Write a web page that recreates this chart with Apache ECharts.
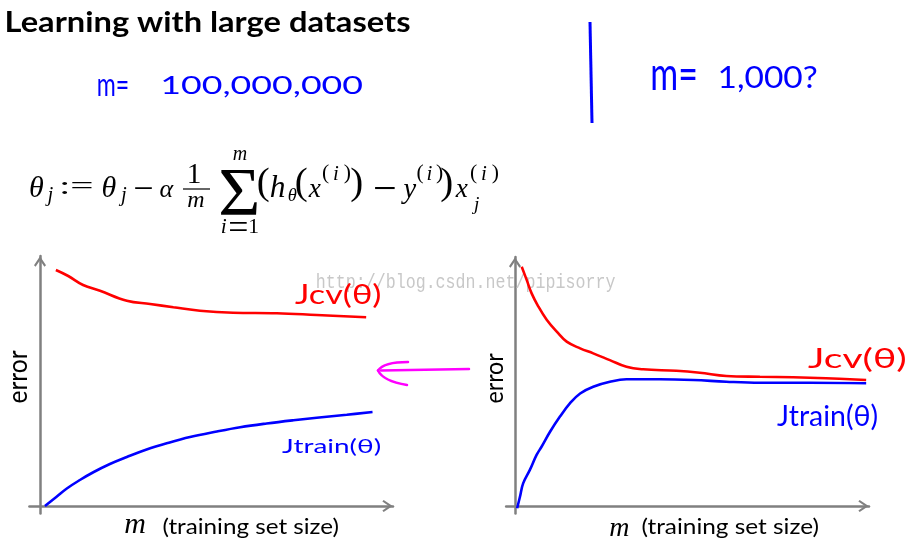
<!DOCTYPE html>
<html><head><meta charset="utf-8">
<script src="https://cdn.jsdelivr.net/npm/echarts@6/dist/echarts.min.js"></script>
<style>html,body{margin:0;padding:0;background:#fff}#c{width:912px;height:544px}</style>
</head><body><div id="c"></div>
<script>
// ---- data (abstract units: x 0..100 along m axis, y 0..100 along error axis) ----
const leftCvX    = [4.5, 8.0, 12.2, 17.0, 24.6, 31.2, 37.8, 45.3, 54.7, 67.1, 78.4, 92.4];
const leftCvY    = [94.4, 92.0, 88.4, 86.1, 82.1, 80.8, 79.5, 78.1, 77.3, 77.1, 76.4, 75.5];
const leftTrainX = [1.4, 4.7, 7.6, 11.3, 15.1, 19.8, 24.6, 30.2, 35.9, 42.5, 50.1, 56.7, 64.2, 71.8, 78.4, 86.9, 94.2];
const leftTrainY = [0, 3.7, 7.0, 10.4, 13.5, 16.8, 19.6, 22.6, 25.1, 27.6, 29.8, 31.5, 33.0, 34.3, 35.3, 36.5, 37.6];
const rightCvX    = [1.9, 3.3, 4.7, 6.6, 9.0, 11.8, 14.6, 18.4, 22.1, 26.8, 31.5, 36.2, 45.6, 52.2, 59.7, 69.2, 78.6, 87.9, 99.2];
const rightCvY    = [96.1, 90.8, 85.4, 80.1, 74.7, 70.0, 66.0, 63.3, 61.3, 58.6, 55.9, 54.9, 54.3, 53.5, 52.2, 51.9, 51.7, 51.3, 50.6];
const rightTrainX = [0.6, 1.4, 2.3, 4.2, 6.1, 7.5, 9.9, 12.7, 15.5, 18.4, 22.1, 26.8, 31.5, 40.9, 50.4, 59.7, 69.2, 83.3, 99.2];
const rightTrainY = [-0.9, 3.7, 9.1, 14.5, 20.5, 23.8, 29.8, 35.9, 41.2, 45.2, 47.9, 49.9, 50.9, 50.9, 50.6, 49.9, 49.5, 49.5, 49.3];
const titleText = 'Learning with large datasets';
const xAxisLabel = '(training set size)';
const yAxisLabel = 'error';
const cvLabel = 'Jcv(θ)';
const trainLabel = 'Jtrain(θ)';
const watermark = 'http://blog.csdn.net/pipisorry';

const zip = (a, b) => a.map((v, i) => [v, b[i]]);

// ---- text fitting helper ----
const ctx = document.createElement('canvas').getContext('2d');
function fit(str, box, o) {
  o = o || {};
  const fam = o.family || 'Lato', size = 40, wt = o.weight || 'normal', st = o.style || 'normal';
  ctx.font = st + ' ' + wt + ' ' + size + 'px ' + fam;
  ctx.textBaseline = 'middle'; ctx.textAlign = 'left';
  const m = ctx.measureText(str);
  const l = -m.actualBoundingBoxLeft, r = m.actualBoundingBoxRight;
  const t = -m.actualBoundingBoxAscent, b = m.actualBoundingBoxDescent;
  const [x1, y1, x2, y2] = box;
  const rot = o.rotation || 0;
  const tw = rot ? (y2 - y1) : (x2 - x1), th = rot ? (x2 - x1) : (y2 - y1);
  let sx = tw / (r - l), sy = th / (b - t);
  if (o.mode === 'w') sy = sx;
  if (o.mode === 'h') sx = sy;
  return {
    type: 'text', x: (x1 + x2) / 2, y: (y1 + y2) / 2, scaleX: sx, scaleY: sy, rotation: rot, z: o.z || 10,
    style: { text: str, x: -(l + r) / 2, y: -(t + b) / 2, fill: o.color || '#000', fontSize: size,
      fontFamily: fam, fontWeight: wt, fontStyle: st, align: 'left', verticalAlign: 'middle' }
  };
}
const SER = 'Liberation Serif';
const it = (s, box, extra) => fit(s, box, Object.assign({ family: SER, style: 'italic', mode: 'h' }, extra));
const up = (s, box, extra) => fit(s, box, Object.assign({ family: SER, mode: 'h' }, extra));
function sup(x1, x2, y1, y2) {
  const w = x2 - x1, h = y2 - y1;
  return [up('(', [x1, y1, x1 + 0.2 * w, y2]),
          it('i', [x1 + 0.36 * w, y1 + 0.12 * h, x1 + 0.62 * w, y2 - 0.2 * h]),
          up(')', [x2 - 0.2 * w, y1, x2, y2])];
}

const graphics = [
  fit(titleText, [7, 11, 410, 38], { weight: 'bold' }),
  fit('m=', [98, 79, 128, 96], { color: '#0000ff' }),
  fit('100,000,000', [163, 76, 362, 98], { color: '#0000ff' }),
  fit('m=', [652, 66, 696, 90], { color: '#0000ff' }),
  fit('1,000?', [720, 66, 817, 93], { color: '#0000ff' }),
  { type: 'line', shape: { x1: 590, y1: 22, x2: 592, y2: 123 }, style: { stroke: '#0000ff', lineWidth: 3 } },
  // formula
  it('θ', [28, 176, 45, 197]), it('j', [45, 188, 53, 206]),
  up(':=', [62, 181, 92, 194], { mode: 'both' }),
  it('θ', [100, 176, 118, 197]), it('j', [118, 188, 127, 206]),
  up('−', [135, 187, 152, 189], { mode: 'w' }),
  it('α', [157, 184, 177, 197]),
  up('1', [188, 164, 201, 183]),
  { type: 'line', shape: { x1: 183, y1: 189, x2: 210, y2: 189 }, style: { stroke: '#000', lineWidth: 1.2 } },
  it('m', [184, 195, 208, 207]),
  up('Σ', [220, 170, 258, 214], { mode: 'both' }),
  it('m', [230, 150, 250, 160]),
  it('i', [221, 219, 227, 233]), up('=', [230, 223, 247, 230], { mode: 'w' }), up('1', [250, 219, 258, 233]),
  up('(', [260, 167, 267, 203]), it('h', [268, 175, 287, 197]), it('θ', [288, 188, 297, 201]),
  up('(', [298, 167, 305, 203]), it('x', [307, 184, 322, 197]),
  ...sup(323, 350, 164, 184),
  up(')', [353, 167, 360, 203]),
  up('−', [375, 187, 395, 189], { mode: 'w' }),
  it('y', [400, 184, 417, 204]),
  ...sup(418, 442, 164, 184),
  up(')', [443, 167, 450, 203]),
  it('x', [453, 184, 470, 197]),
  ...sup(471, 498, 164, 184),
  it('j', [471, 197, 480, 214]),
  // axis labels
  fit(yAxisLabel, [13, 350, 27, 403], { rotation: Math.PI / 2 }),
  fit(yAxisLabel, [490, 353, 503, 403], { rotation: Math.PI / 2 }),
  it('m', [123, 518, 147, 533]), fit(xAxisLabel, [163, 517, 338, 538]),
  it('m', [607, 522, 632, 536]), fit(xAxisLabel, [642, 517, 818, 538]),
  // curve labels
  fit(cvLabel, [295, 282, 380, 308], { color: '#ff0000' }),
  fit(trainLabel, [282, 437, 380, 456], { color: '#0000ff' }),
  fit(cvLabel, [808, 347, 905, 372], { color: '#ff0000' }),
  fit(trainLabel, [777, 403, 877, 430], { color: '#0000ff' }),
  // magenta arrow
  { type: 'line', shape: { x1: 381, y1: 370.5, x2: 469, y2: 369 }, style: { stroke: '#ff00ff', lineWidth: 2.5, lineCap: 'round' } },
  { type: 'bezierCurve', shape: { x1: 408, y1: 362, cpx1: 384, cpy1: 362, x2: 378, y2: 370.5 }, style: { stroke: '#ff00ff', lineWidth: 2.5, fill: null, lineCap: 'round' } },
  { type: 'bezierCurve', shape: { x1: 378, y1: 370.5, cpx1: 383, cpy1: 381, x2: 407, y2: 385 }, style: { stroke: '#ff00ff', lineWidth: 2.5, fill: null, lineCap: 'round' } },
  fit(watermark, [317, 273, 615, 292], { family: 'Liberation Mono', color: '#c8c8c8', z: 1 })
];

// ---- layout ----
const L = { x0: 40, x100: 393, y0: 506, y100: 256, xmin: -3, ymin: -3 };
const R = { x0: 515, x100: 869, y0: 506, y100: 257, xmin: -2.5, ymin: -3 };
function gridOf(g) {
  const sx = (g.x100 - g.x0) / 100, sy = (g.y0 - g.y100) / 100;
  return { left: g.x0 + g.xmin * sx, width: (100 - g.xmin) * sx, top: g.y100, height: (100 - g.ymin) * sy };
}
const chevron = 'path://M6,0 L12,9 L10.4,10.3 L6,3.8 L1.6,10.3 L0,9 Z';
function axis(type, gi, min) {
  return {
    type: 'value', gridIndex: gi, min: min, max: 100,
    axisLine: { show: true, onZero: true, lineStyle: { color: '#808080', width: 2.5 },
      symbol: ['none', chevron], symbolSize: [12, 11], symbolOffset: [0, -5.5] },
    axisTick: { show: false }, axisLabel: { show: false }, splitLine: { show: false }
  };
}
const lineSeries = (data, color, xi) => ({
  type: 'line', xAxisIndex: xi, yAxisIndex: xi, data: data, smooth: 0.4, showSymbol: false,
  symbol: 'none', lineStyle: { color: color, width: 2.6 }, silent: true, animation: false
});

const chart = echarts.init(document.getElementById('c'), null, { renderer: 'canvas' });
chart.setOption({
  backgroundColor: '#ffffff',
  animation: false,
  grid: [gridOf(L), gridOf(R)],
  xAxis: [axis('x', 0, L.xmin), axis('x', 1, R.xmin)],
  yAxis: [axis('y', 0, L.ymin), axis('y', 1, R.ymin)],
  series: [
    lineSeries(zip(leftCvX, leftCvY), '#ff0000', 0),
    lineSeries(zip(leftTrainX, leftTrainY), '#0000ff', 0),
    lineSeries(zip(rightCvX, rightCvY), '#ff0000', 1),
    lineSeries(zip(rightTrainX, rightTrainY), '#0000ff', 1)
  ],
  graphic: { elements: graphics }
});
</script></body></html>
